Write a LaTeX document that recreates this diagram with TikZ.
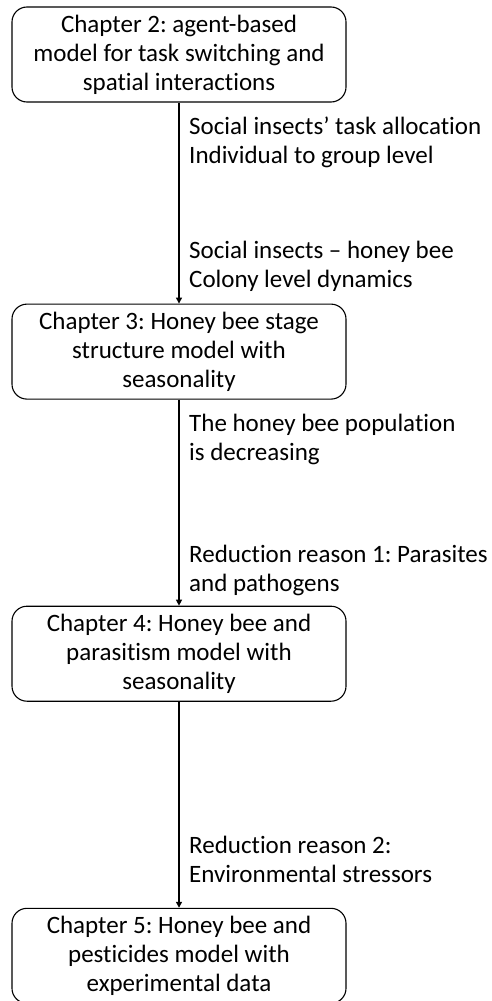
\documentclass[tikz,border=0pt]{standalone}
\usepackage{fontspec}
\setmainfont{Carlito}[Ligatures={TeX,NoCommon}]
\frenchspacing
\usetikzlibrary{positioning, arrows.meta}

\begin{document}
\begin{tikzpicture}[x=1pt, y=1pt,
     node distance = 201pt,
        chap/.style = {rectangle, draw, rounded corners=15pt, line width=1.1pt,
                       minimum width=334pt, minimum height=95pt, inner sep=0pt,
                       align=center, font=\fontsize{25}{29}\selectfont},
         lbl/.style = {align=left, inner sep=0pt, font=\fontsize{25}{29}\selectfont},
        flow/.style = {-{Triangle[length=6pt,width=6pt]}, line width=1.3pt}
                        ]
\useasboundingbox (0,0) rectangle (492,-1001);
\node (c2)[chap] at (179,-54.5) {Chapter 2: agent-based\\ model for task switching and\\ spatial interactions};
\node (c3)[chap, below=201pt of c2] {Chapter 3: Honey bee stage\\ structure model with\\ seasonality};
\node (c4)[chap, below=206pt of c3] {Chapter 4: Honey bee and\\ parasitism model with\\ seasonality};
\node (c5)[chap, below=206pt of c4] {Chapter 5: Honey bee and\\ pesticides model with\\ experimental data};
\draw[flow] (c2) to (c3);
\draw[flow] (c3) to (c4);
\draw[flow] (c4) to (c5);
\node (t2a)[lbl, below right=14pt and 10pt of c2.south] {Social insects' task allocation\\ Individual to group level};
\node (t2b)[lbl, above right=12pt and 10pt of c3.north] {Social insects -- honey bee\\ Colony level dynamics};
\node (t3a)[lbl, below right=14pt and 10pt of c3.south] {The honey bee population\\ is decreasing};
\node (t3b)[lbl, above right=10pt and 10pt of c4.north] {Reduction reason 1: Parasites\\ and pathogens};
\node (t4b)[lbl, above right=25pt and 10pt of c5.north] {Reduction reason 2:\\ Environmental stressors};
\end{tikzpicture}
\end{document}
